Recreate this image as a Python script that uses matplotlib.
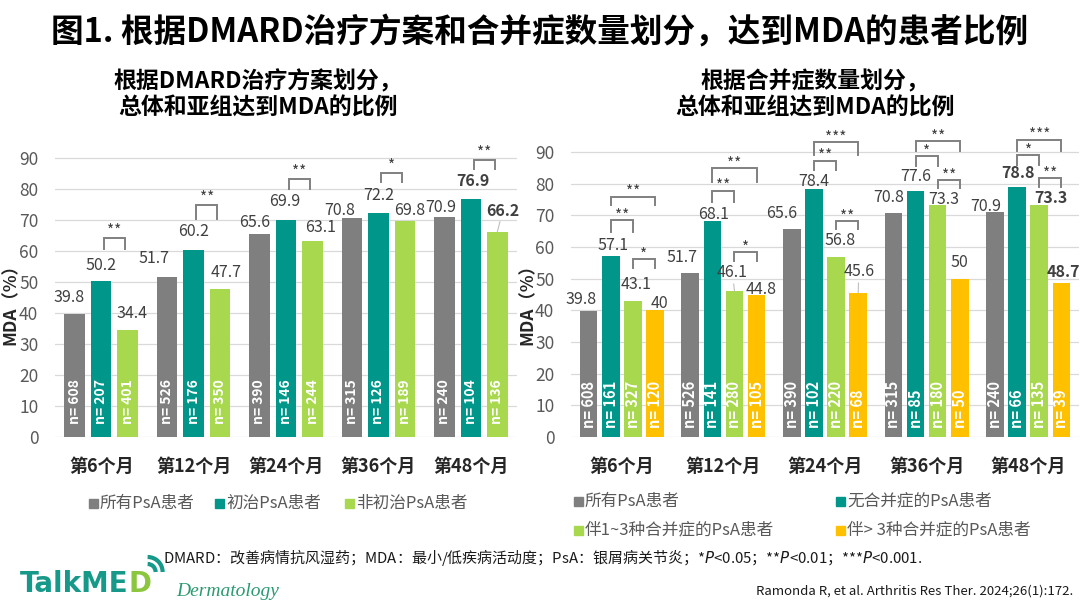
import matplotlib
matplotlib.use("Agg")
import matplotlib.pyplot as plt
import numpy as np
from matplotlib.patches import Rectangle, Arc

plt.rcParams['font.family'] = ['Noto Sans CJK SC', 'DejaVu Sans']

# ---------------- data ----------------
categories = ["第6个月", "第12个月", "第24个月", "第36个月", "第48个月"]

# left panel: by DMARD treatment
left_names = ["所有PsA患者", "初治PsA患者", "非初治PsA患者"]
left_all = [39.8, 51.7, 65.6, 70.8, 70.9]
left_naive = [50.2, 60.2, 69.9, 72.2, 76.9]
left_exp = [34.4, 47.7, 63.1, 69.8, 66.2]
left_n_all = [608, 526, 390, 315, 240]
left_n_naive = [207, 176, 146, 126, 104]
left_n_exp = [401, 350, 244, 189, 136]
left_sig = ["**", "**", "**", "*", "**"]          # naive vs experienced

# right panel: by number of comorbidities
right_names = ["所有PsA患者", "无合并症的PsA患者", "伴1~3种合并症的PsA患者", "伴> 3种合并症的PsA患者"]
right_all = [39.8, 51.7, 65.6, 70.8, 70.9]
right_none = [57.1, 68.1, 78.4, 77.6, 78.8]
right_1to3 = [43.1, 46.1, 56.8, 73.3, 73.3]
right_gt3 = [40, 44.8, 45.6, 50, 48.7]
right_n_all = [608, 526, 390, 315, 240]
right_n_none = [161, 141, 102, 85, 66]
right_n_1to3 = [327, 280, 220, 180, 135]
right_n_gt3 = [120, 105, 68, 50, 39]
right_sig_none_1to3 = ["**", "**", "**", "*", "*"]
right_sig_none_gt3 = ["**", "**", "***", "**", "***"]
right_sig_1to3_gt3 = ["*", "*", "**", "**", "**"]

title = "图1. 根据DMARD治疗方案和合并症数量划分，达到MDA的患者比例"
sub_left = "根据DMARD治疗方案划分，\n总体和亚组达到MDA的比例"
sub_right = "根据合并症数量划分，\n总体和亚组达到MDA的比例"
ylabel = "MDA（%）"
footnote = ("DMARD：改善病情抗风湿药；MDA：最小/低疾病活动度；PsA：银屑病关节炎；"
            "*$\\it{P}$<0.05；**$\\it{P}$<0.01；***$\\it{P}$<0.001.")
citation = "Ramonda R, et al. Arthritis Res Ther. 2024;26(1):172."

# ---------------- layout / style ----------------
W, H = 1080, 608
GRAY, TEAL, GREEN, YELLOW = "#7f7f7f", "#00968a", "#a8d84e", "#ffc000"
TXT = "#404040"

def fx(x):
    return x / W

def fy(y):
    return 1 - y / H

# label offsets in pixels (dx, dy) per series / group
left_dx = [[-6, -13, -5, -12, -3.5], [0, 0, -1, 0, 2], [4, 6, 8.5, 5, 5.5]]
left_dy = [[16.4, 18, 11, 7.5, 9.7], [16, 18.6, 18.6, 18, 17.5], [17, 17, 14, 10, 21]]
right_dx = [[-8, -8.6, -10, -5, -9.7], [2, 1.7, 0, 0, 1.2], [3.4, -2, 4, 6, 11.4], [4, 5, 0.6, 0, 2]]
right_dy = [[11.4, 15.8, 16, 15.2, 6.3], [10.5, 7, 7, 15.2, 14.3], [16, 18.4, 17, 5.4, 7], [7.3, 5.7, 21, 16, 11]]
left_bold = {(1, 4), (2, 4)}
right_bold = {(1, 4), (2, 4), (3, 4)}
left_leader = {(2, 4)}
right_leader = {(2, 1), (3, 2)}

# bracket heights (data units): (bottom, top)
left_br = [(60.8, 64.1), (70.2, 74.9), (80.1, 83.2), (82.2, 85.1), (86.5, 89.2)]
right_br_tg = [(64.7, 68.4), (74.3, 77.8), (84.4, 87.3), (85.7, 88.6), (86.0, 89.1)]
right_br_ty = [(73.2, 75.9), (80.6, 84.9), (89.1, 93.1), (90.2, 93.4), (90.2, 93.9)]
right_br_gy = [(53.5, 56.2), (55.6, 58.3), (65.7, 68.2), (78.5, 81.2), (79.0, 81.7)]

fig = plt.figure(figsize=(W / 100, H / 100), dpi=100)
fig.patch.set_facecolor("white")

ax1 = fig.add_axes([fx(55), fy(437), 462 / W, 310 / H])
ax2 = fig.add_axes([fx(571), fy(437), 508 / W, 316.7 / H])


def style_axis(ax, pad_y):
    ax.set_ylim(0, 100)
    ax.set_xlim(-0.5, 4.5)
    ax.set_yticks(np.arange(0, 91, 10))
    ax.set_xticks(np.arange(5))
    ax.set_xticklabels(categories, fontsize=13, fontweight="bold", color="#262626")
    for s in ax.spines.values():
        s.set_visible(False)
    ax.yaxis.grid(True, color="#d9d9d9", lw=0.9)
    ax.set_axisbelow(True)
    ax.tick_params(axis="both", length=0)
    ax.tick_params(axis="y", labelsize=12.5, labelcolor="#595959", pad=pad_y)
    ax.tick_params(axis="x", pad=14)


def draw_panel(ax, series, ns, colors, step, width, dxs, dys, bold, leaders, n_size, n_off):
    x = np.arange(len(categories))
    k = len(series)
    centers = []
    for i, (vals, nn, col) in enumerate(zip(series, ns, colors)):
        xs = x + (i - (k - 1) / 2) * step
        centers.append(xs)
        ax.bar(xs, vals, width=width, color=col, zorder=2)
        for j, (xx, v, n) in enumerate(zip(xs, vals, nn)):
            ax.annotate(f"n= {n}", xy=(xx, 0), xytext=(0, n_off), textcoords="offset pixels",
                        rotation=90, ha="center", va="bottom", color="white",
                        fontsize=n_size, fontweight="bold", zorder=4)
            kw = {}
            if (i, j) in leaders:
                kw["arrowprops"] = dict(arrowstyle="-", color="#bfbfbf", lw=0.8,
                                        shrinkA=0, shrinkB=0)
            ax.annotate(f"{v:g}", xy=(xx, v), xytext=(dxs[i][j], dys[i][j]),
                        textcoords="offset pixels", ha="center", va="center",
                        fontsize=11.5, color=TXT,
                        fontweight="bold" if (i, j) in bold else "normal",
                        zorder=5, annotation_clip=False, **kw)
    return centers


def bracket(ax, x1, x2, yb, yt, txt, star_off, inset=0.0):
    x1, x2 = x1 + inset, x2 - inset
    ax.plot([x1, x1, x2, x2], [yb, yt, yt, yb], color="#808080", lw=1.4,
            zorder=3, clip_on=False, solid_joinstyle="miter")
    ax.annotate(txt, xy=((x1 + x2) / 2, yt), xytext=(0, star_off),
                textcoords="offset pixels", ha="center", va="center",
                fontsize=11, color=TXT, annotation_clip=False)


style_axis(ax1, 12)
style_axis(ax2, 12)

cl = draw_panel(ax1, [left_all, left_naive, left_exp],
                [left_n_all, left_n_naive, left_n_exp],
                [GRAY, TEAL, GREEN], 0.287, 0.222, left_dx, left_dy, left_bold, left_leader,
                10, 13)
for j in range(5):
    bracket(ax1, cl[1][j], cl[2][j], left_br[j][0], left_br[j][1], left_sig[j], 7, inset=0.03)

cr = draw_panel(ax2, [right_all, right_none, right_1to3, right_gt3],
                [right_n_all, right_n_none, right_n_1to3, right_n_gt3],
                [GRAY, TEAL, GREEN, YELLOW], 0.218, 0.173, right_dx, right_dy, right_bold,
                right_leader, 10.5, 9)
for j in range(5):
    bracket(ax2, cr[1][j], cr[2][j], right_br_tg[j][0], right_br_tg[j][1], right_sig_none_1to3[j], 4)
    bracket(ax2, cr[1][j], cr[3][j], right_br_ty[j][0], right_br_ty[j][1], right_sig_none_gt3[j], 4)
    bracket(ax2, cr[2][j], cr[3][j], right_br_gy[j][0], right_br_gy[j][1], right_sig_1to3_gt3[j], 4)

# y labels
for xpix in (11, 528):
    fig.text(fx(xpix), fy(300), ylabel, rotation=90, ha="center", va="center",
             fontsize=12.5, fontweight="bold", color="#262626")

# titles
fig.text(fx(540), fy(33), title, ha="center", va="center", fontsize=23.5,
         fontweight="bold", color="black")
fig.text(fx(258), fy(95), sub_left, ha="center", va="center", fontsize=16.5,
         fontweight="bold", color="black", linespacing=1.22)
fig.text(fx(815), fy(95), sub_right, ha="center", va="center", fontsize=16.5,
         fontweight="bold", color="black", linespacing=1.22)


# legends
def legend_item(xsq, y, color, label):
    s = 9
    fig.add_artist(Rectangle((fx(xsq - s / 2), fy(y + s / 2)), s / W, s / H,
                             transform=fig.transFigure, color=color))
    fig.text(fx(xsq + 7), fy(y), label, ha="left", va="center", fontsize=12,
             color="#595959")


legend_item(93, 503, GRAY, left_names[0])
legend_item(219, 503, TEAL, left_names[1])
legend_item(349, 503, GREEN, left_names[2])
legend_item(578, 501, GRAY, right_names[0])
legend_item(840, 501, TEAL, right_names[1])
legend_item(578, 530, GREEN, right_names[2])
legend_item(840, 530, YELLOW, right_names[3])

# footnote & citation
fig.text(fx(163), fy(557), footnote, ha="left", va="center", fontsize=10.8, color="#1a1a1a")
fig.text(fx(1073), fy(591), citation, ha="right", va="center", fontsize=9.5, color="#1a1a1a")

# logo
t1 = fig.text(fx(20), fy(584), "TalkME", ha="left", va="center", fontsize=20,
              fontweight="bold", color="#17998a", family="DejaVu Sans")
fig.canvas.draw()
bb = t1.get_window_extent()
t2 = fig.text(bb.x1 / W, fy(584), "D", ha="left", va="center", fontsize=20,
              fontweight="bold", color="#8cc63f", family="DejaVu Sans")
fig.canvas.draw()
bb2 = t2.get_window_extent()
cx, cy = bb2.x1 - 4, bb2.y1 - 2
for r in (8, 15):
    fig.add_artist(Arc((cx / W, cy / H), 2 * r / W, 2 * r / H, theta1=0, theta2=90,
                       transform=fig.transFigure, color="#17998a", lw=3))
fig.text(fx(176), fy(592), "Dermatology", ha="left", va="center", fontsize=14,
         style="italic", family="Liberation Serif", color="#2a9a70")

fig.savefig("out.png", dpi=100)
